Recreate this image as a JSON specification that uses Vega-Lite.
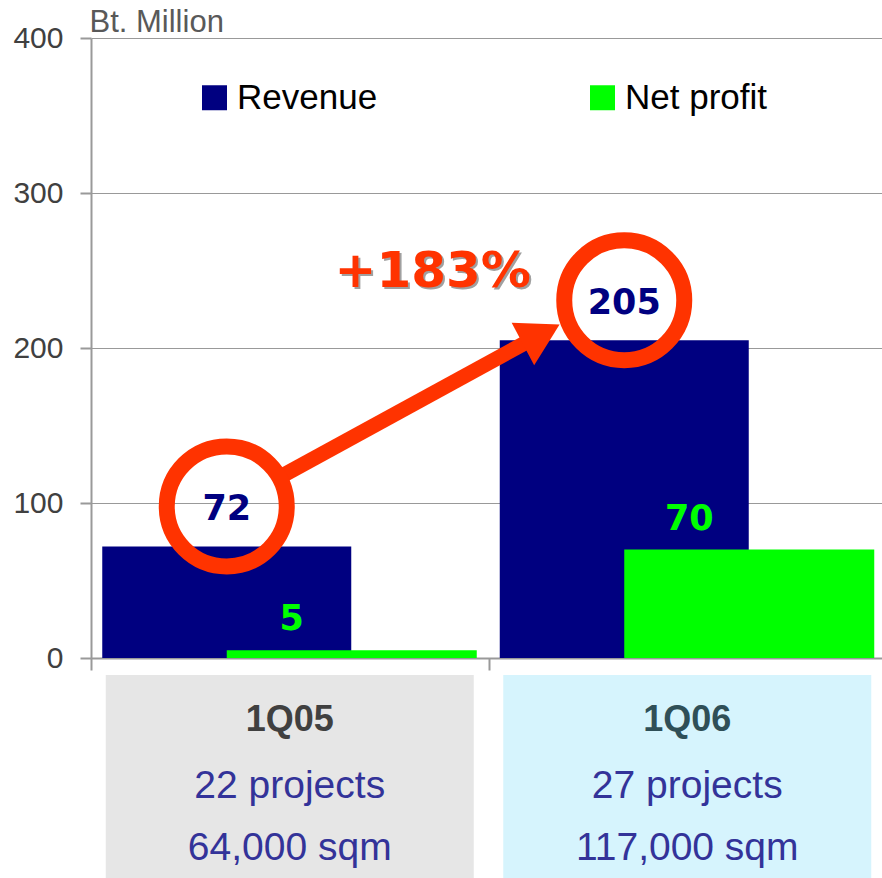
{
  "$schema": "https://vega.github.io/schema/vega-lite/v6.json",
  "padding": {"left": 12, "top": 6, "right": 0, "bottom": 0},
  "autosize": {"type": "pad"},
  "config": {"view": {"stroke": null}, "font": "Liberation Sans"},
  "datasets": {
    "results": [
      {"quarter": "1Q05", "series": "Revenue", "value": 72},
      {"quarter": "1Q05", "series": "Net profit", "value": 5},
      {"quarter": "1Q06", "series": "Revenue", "value": 205},
      {"quarter": "1Q06", "series": "Net profit", "value": 70}
    ],
    "growth": [
      {"from": "1Q05", "to": "1Q06", "fromValue": 72, "toValue": 205, "label": "+183%"}
    ],
    "quarters": [
      {"quarter": "1Q05", "header": "1Q05", "projects": "22 projects", "area": "64,000 sqm"},
      {"quarter": "1Q06", "header": "1Q06", "projects": "27 projects", "area": "117,000 sqm"}
    ]
  },
  "spacing": 2,
  "resolve": {"scale": {"x": "independent"}},
  "vconcat": [
    {
      "width": 795,
      "height": 620,
      "data": {"name": "results"},
      "encoding": {
        "x": {
          "field": "quarter", "type": "nominal", "sort": ["1Q05", "1Q06"],
          "scale": {"paddingInner": 0, "paddingOuter": 0},
          "axis": {"title": null, "labels": false, "ticks": true, "tickBand": "extent", "tickSize": 12, "tickColor": "#999999", "tickWidth": 2, "domainColor": "#999999", "domainWidth": 2, "grid": false}
        },
        "y": {
          "field": "value", "type": "quantitative",
          "scale": {"domain": [0, 400], "nice": false},
          "axis": {
            "title": "Bt. Million", "titleAngle": 0, "titleX": -2, "titleY": -7, "titleAlign": "left", "titleBaseline": "alphabetic",
            "titleFont": "Liberation Sans", "titleFontSize": 31, "titleFontWeight": "normal", "titleColor": "#595959",
            "values": [0, 100, 200, 300, 400], "labelFontSize": 30, "labelColor": "#404040", "labelPadding": 17,
            "tickSize": 11, "tickColor": "#999999", "tickWidth": 2, "domainColor": "#999999", "domainWidth": 2,
            "grid": true, "gridColor": "#999999", "gridWidth": 1
          }
        }
      },
      "layer": [
        {
          "transform": [{"filter": "datum.series === 'Revenue'"}],
          "mark": {"type": "bar", "width": 249, "xOffset": -63},
          "encoding": {
            "color": {
              "field": "series", "type": "nominal",
              "scale": {"domain": ["Revenue", "Net profit"], "range": ["#000080", "#00FF00"]},
              "legend": {"orient": "none", "legendX": 106, "legendY": 42, "direction": "horizontal", "title": null,
                "symbolType": "square", "symbolSize": 625, "symbolStrokeWidth": 0, "labelFontSize": 35, "labelColor": "#000000",
                "labelOffset": 5, "columnPadding": 207, "labelLimit": 400}
            }
          }
        },
        {
          "transform": [{"filter": "datum.series === 'Net profit'"}],
          "mark": {"type": "bar", "width": 250, "xOffset": 62},
          "encoding": {"color": {"field": "series", "type": "nominal"}}
        },
        {
          "data": {"name": "growth"},
          "mark": {"type": "rule", "color": "#FF3300", "strokeWidth": 15, "xOffset": -5, "yOffset": -72, "x2Offset": -159, "y2Offset": 1},
          "encoding": {
            "x": {"field": "from", "type": "nominal"},
            "x2": {"field": "to"},
            "y": {"field": "fromValue", "type": "quantitative"},
            "y2": {"field": "toValue"}
          }
        },
        {
          "data": {"name": "growth"},
          "mark": {"type": "point", "shape": "triangle-right", "size": 2300, "filled": true, "opacity": 1, "color": "#FF3300", "angle": 332, "xOffset": -146, "yOffset": -6},
          "encoding": {
            "x": {"field": "to", "type": "nominal"},
            "y": {"field": "toValue", "type": "quantitative"}
          }
        },
        {
          "transform": [{"filter": "datum.series === 'Revenue'"}],
          "mark": {"type": "point", "shape": "circle", "size": 14400, "filled": false, "opacity": 1, "stroke": "#FF3300", "strokeWidth": 16, "xOffset": -63, "yOffset": -40}
        },
        {
          "transform": [{"filter": "datum.series === 'Revenue'"}],
          "mark": {"type": "text", "font": "DejaVu Sans", "fontWeight": "bold", "fontSize": 35, "color": "#000080", "dy": -37, "xOffset": -63, "baseline": "middle"},
          "encoding": {"text": {"field": "value", "type": "quantitative"}}
        },
        {
          "transform": [{"filter": "datum.series === 'Net profit'"}],
          "mark": {"type": "text", "font": "DejaVu Sans", "fontWeight": "bold", "fontSize": 35, "color": "#00FF00", "dy": -31, "xOffset": 2, "baseline": "middle"},
          "encoding": {"text": {"field": "value", "type": "quantitative"}}
        },
        {
          "data": {"name": "growth"},
          "mark": {"type": "text", "font": "DejaVu Sans", "fontWeight": "bold", "fontSize": 50, "color": "#A0A0A0", "dx": 145, "dy": -66, "baseline": "middle"},
          "encoding": {
            "x": {"field": "from", "type": "nominal"},
            "y": {"field": "toValue", "type": "quantitative"},
            "text": {"field": "label"}
          }
        },
        {
          "data": {"name": "growth"},
          "mark": {"type": "text", "font": "DejaVu Sans", "fontWeight": "bold", "fontSize": 50, "color": "#FF3300", "dx": 143, "dy": -68, "baseline": "middle"},
          "encoding": {
            "x": {"field": "from", "type": "nominal"},
            "y": {"field": "toValue", "type": "quantitative"},
            "text": {"field": "label"}
          }
        }
      ]
    },
    {
      "width": 795,
      "height": 206,
      "data": {"name": "quarters"},
      "encoding": {
        "x": {"field": "quarter", "type": "nominal", "sort": ["1Q05", "1Q06"], "scale": {"paddingInner": 0, "paddingOuter": 0}, "axis": null}
      },
      "layer": [
        {
          "mark": {"type": "bar", "width": 368},
          "encoding": {
            "color": {"condition": {"test": "datum.quarter === '1Q06'", "value": "#D6F4FD"}, "value": "#E6E6E6"}
          }
        },
        {
          "mark": {"type": "text", "fontWeight": "bold", "fontSize": 36, "dy": -58, "baseline": "middle"},
          "encoding": {
            "text": {"field": "header"},
            "color": {"condition": {"test": "datum.quarter === '1Q06'", "value": "#2F4F57"}, "value": "#404040"}
          }
        },
        {
          "mark": {"type": "text", "fontSize": 39, "dy": 8, "baseline": "middle", "color": "#333399"},
          "encoding": {"text": {"field": "projects"}}
        },
        {
          "mark": {"type": "text", "fontSize": 39, "dy": 70, "baseline": "middle", "color": "#333399"},
          "encoding": {"text": {"field": "area"}}
        }
      ]
    }
  ]
}
